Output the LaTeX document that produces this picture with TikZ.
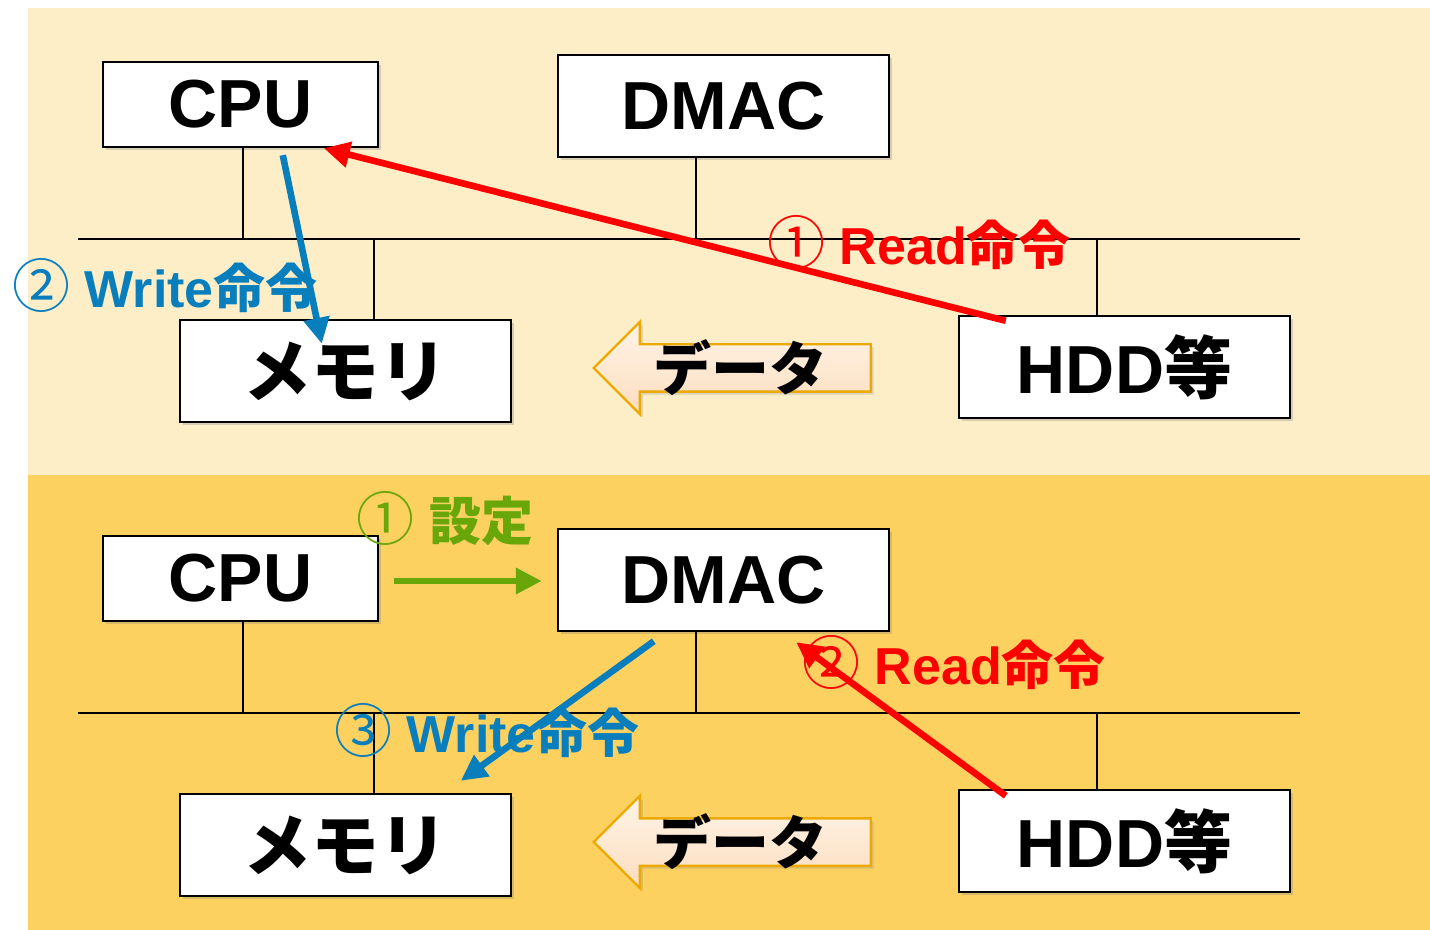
\documentclass[tikz,border=0pt]{standalone}
\usepackage{fontspec}
\setmainfont{Liberation Sans}
\newfontfamily\jpfont{Noto Sans CJK JP}
\usepackage{tikz}
\usetikzlibrary{arrows.meta,shapes,positioning,shadows,calc}
\definecolor{dmtop}{RGB}{253,238,200}
\definecolor{dmbottom}{RGB}{253,209,96}
\definecolor{dmred}{RGB}{255,0,0}
\definecolor{dmblue}{RGB}{8,126,189}
\definecolor{dmgreen}{RGB}{104,166,10}
\definecolor{dmorange}{RGB}{236,170,0}
\definecolor{dmpeach1}{RGB}{255,244,232}
\definecolor{dmpeach2}{RGB}{252,221,190}
\newcommand{\cnum}[1]{{\jpfont\mdseries\fontsize{29}{30}\selectfont #1}}
\tikzstyle{unit} = [rectangle, draw=black, line width=1.2pt, fill=white, inner sep=0pt, font=\fontsize{34}{40}\selectfont\bfseries, drop shadow={shadow xshift=1.5pt, shadow yshift=-1.5pt, opacity=0.3}]
\tikzstyle{wideunit} = [unit, minimum width=165.5pt, minimum height=51pt]
\tikzstyle{bus} = [line width=1pt, black]
\tikzstyle{cmd} = [line width=3.3pt, -{Triangle[length=13pt,width=12.5pt]}]
\tikzstyle{cmdlabel} = [inner sep=0pt, font=\fontsize{26}{30}\selectfont\bfseries]
\tikzstyle{dataarrow} = [single arrow, shape border rotate=180, draw=dmorange, line width=1.2pt, top color=dmpeach1, bottom color=dmpeach2, minimum height=138.5pt, minimum width=45pt, single arrow head extend=11.25pt, inner xsep=0pt, inner ysep=11.25pt, anchor=tip, drop shadow={shadow xshift=1.5pt, shadow yshift=-1.5pt, opacity=0.25}]
\tikzstyle{datatext} = [inner sep=0pt, font=\jpfont\fontsize{29}{34}\selectfont\bfseries]

\begin{document}
\begin{tikzpicture}[x=0.5pt, y=-0.5pt]
\useasboundingbox (0,0) rectangle (1430,930);
% Panels
\fill[dmtop] (28,8) rectangle (1430,475);
\fill[dmbottom] (28,475) rectangle (1430,930);

% Buses
\coordinate (busL1) at (78,239);
\coordinate (busR1) at (1300,239);
\coordinate (busL2) at (78,713);
\coordinate (busR2) at (1300,713);
\draw[bus] (busL1) -- (busR1);
\draw[bus] (busL2) -- (busR2);

% Units (top)
\node[unit, minimum width=137.5pt, minimum height=42.5pt] (cpu1) at (240.5,104.5) {CPU};
\node[wideunit] (dmac1) at (723.5,106) {DMAC};
\node[wideunit] (mem1) at (345.5,371) {\jpfont メモリ};
\node[wideunit] (hdd1) at (1124.5,367) {HDD\jpfont 等};
% Units (bottom)
\node[unit, minimum width=137.5pt, minimum height=42.5pt] (cpu2) at (240.5,578.5) {CPU};
\node[wideunit] (dmac2) at (723.5,580) {DMAC};
\node[wideunit] (mem2) at (345.5,845) {\jpfont メモリ};
\node[wideunit] (hdd2) at (1124.5,841) {HDD\jpfont 等};

% Taps
\coordinate (tapC1) at (243,239);
\coordinate (tapD1) at (696,239);
\coordinate (tapM1) at (374,239);
\coordinate (tapH1) at (1097,239);
\coordinate (tapC2) at (243,713);
\coordinate (tapD2) at (696,713);
\coordinate (tapM2) at (374,713);
\coordinate (tapH2) at (1097,713);
\draw[bus] (tapC1) -- (tapC1 |- cpu1.south);
\draw[bus] (tapD1) -- (tapD1 |- dmac1.south);
\draw[bus] (tapM1) -- (tapM1 |- mem1.north);
\draw[bus] (tapH1) -- (tapH1 |- hdd1.north);
\draw[bus] (tapC2) -- (tapC2 |- cpu2.south);
\draw[bus] (tapD2) -- (tapD2 |- dmac2.south);
\draw[bus] (tapM2) -- (tapM2 |- mem2.north);
\draw[bus] (tapH2) -- (tapH2 |- hdd2.north);

% Data flow
\node[dataarrow] (data1) at (592,368) {};
\node[datatext] (dtext1) at ($(data1.tip)+(148,0)$) {データ};
\node[dataarrow] (data2) at (592,842) {};
\node[datatext] (dtext2) at ($(data2.tip)+(148,0)$) {データ};

% Labels
\node[cmdlabel, dmred] (read1) at (919,243) {\cnum{①} Read\jpfont 命令};
\node[cmdlabel, dmblue] (write1) at (165,286) {\cnum{②} Write\jpfont 命令};
\node[cmdlabel, dmgreen] (set2) at (445,519) {\cnum{①} \jpfont 設定};
\node[cmdlabel, dmred] (read2) at (954,663) {\cnum{②} Read\jpfont 命令};
\node[cmdlabel, dmblue] (write2) at (487,731) {\cnum{③} Write\jpfont 命令};

% Commands
\draw[cmd, dmred] ($(hdd1.north west)+(48,6)$) -- ($(cpu1.south west)+(222,0)$);
\draw[cmd, dmblue] ($(cpu1.south west)+(181,7)$) -- ($(mem1.north west)+(143,25)$);
\draw[cmd, dmgreen] ($(cpu2.east)+(15,2.5)$) -- ($(dmac2.west)+(-15,1)$);
\draw[cmd, dmblue] ($(dmac2.south west)+(97,9)$) -- ($(mem2.north west)+(282,-12)$);
\draw[cmd, dmred] ($(hdd2.north west)+(48,7)$) -- ($(dmac2.south east)+(-94,10)$);
\end{tikzpicture}
\end{document}
